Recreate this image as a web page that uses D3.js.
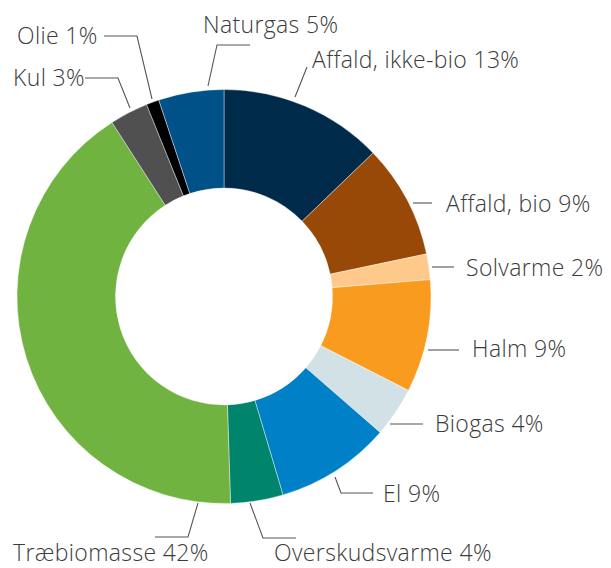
<!DOCTYPE html>
<html>
<head>
<meta charset="utf-8">
<script src="https://cdn.jsdelivr.net/npm/d3@7/dist/d3.min.js"></script>
<style>
  html, body { margin: 0; padding: 0; background: #fff; }
  svg { display: block; }
  text { font-family: "Open Sans", sans-serif; font-weight: 300; fill: #3b3b3b; }
</style>
</head>
<body>
<svg id="chart" width="611" height="568"></svg>
<script>
// Data (share of total, in %; labels show rounded values)
const categories = ["Affald, ikke-bio", "Affald, bio", "Solvarme", "Halm", "Biogas", "El",
                    "Overskudsvarme", "Træbiomasse", "Kul", "Olie", "Naturgas"];
const values     = [12.8, 8.9, 2.0, 8.8, 3.9, 9.0, 4.1, 41.4, 3.0, 1.0, 5.1];
const labelPct   = ["13%", "9%", "2%", "9%", "4%", "9%", "4%", "42%", "3%", "1%", "5%"];
const colors     = ["#002a4a", "#984807", "#ffc98b", "#f99b1f", "#d2e1e6", "#0080c6",
                    "#00846c", "#71b340", "#505050", "#000000", "#005187"];

// Label layout (presentation): text anchor point and leader polyline
const labelLayout = [
  { x: 312, y: 68,  line: [[295, 97], [307, 67]] },
  { x: 446, y: 212, line: [[413, 203], [432, 203]] },
  { x: 466, y: 276, line: [[432, 267], [454, 267]] },
  { x: 472, y: 357, line: [[428, 350], [459, 350]] },
  { x: 435, y: 432, line: [[390, 424], [423, 424]] },
  { x: 383, y: 502, line: [[335, 477], [341, 493], [373, 493]] },
  { x: 274, y: 561, line: [[250, 503], [263, 538], [296, 538]] },
  { x: 13,  y: 561, line: [[198, 503], [188, 537], [155, 537]] },
  { x: 13,  y: 86,  line: [[130, 108], [118, 78], [85, 78]] },
  { x: 17,  y: 44,  line: [[152, 99], [137, 36], [104, 36]] },
  { x: 203, y: 33,  line: [[208, 86], [217, 45], [250, 45]] }
];

const cx = 224, cy = 296.5, outerR = 207, innerR = 108.5;

const svg = d3.select("#chart");
const g = svg.append("g").attr("transform", `translate(${cx},${cy})`);

const pie = d3.pie().value(d => d).sort(null);
const arc = d3.arc().innerRadius(innerR).outerRadius(outerR);

const arcs = pie(values);

g.selectAll("path.slice")
  .data(arcs)
  .join("path")
  .attr("class", "slice")
  .attr("d", arc)
  .attr("fill", (d, i) => colors[i])
  .attr("stroke", "#ffffff")
  .attr("stroke-width", 0.4);

// Leader lines
const line = d3.line();
svg.selectAll("path.leader")
  .data(labelLayout)
  .join("path")
  .attr("class", "leader")
  .attr("d", d => line(d.line))
  .attr("fill", "none")
  .attr("stroke", "#555555")
  .attr("stroke-width", 1.1);

// Labels
svg.selectAll("text.lbl")
  .data(categories)
  .join("text")
  .attr("class", "lbl")
  .attr("x", (d, i) => labelLayout[i].x)
  .attr("y", (d, i) => labelLayout[i].y)
  .attr("font-size", 23)
  .attr("letter-spacing", 0.35)
  .text((d, i) => `${d} ${labelPct[i]}`);
</script>
</body>
</html>
